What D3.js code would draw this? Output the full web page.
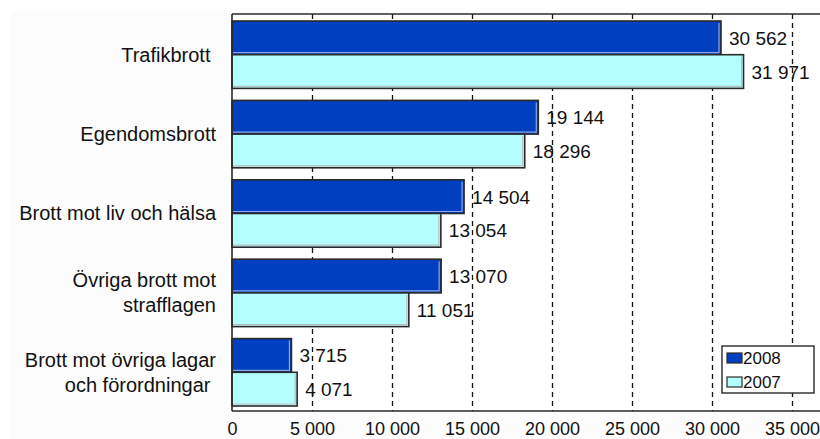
<!DOCTYPE html>
<html>
<head>
<meta charset="utf-8">
<script src="https://cdn.jsdelivr.net/npm/d3@7"></script>
<style>
  body { margin: 0; background: #fff; }
  text { font-family: "Liberation Sans", Arial, sans-serif; fill: #111; }
</style>
</head>
<body>
<div id="chart"></div>
<script>
// Chart size and plot area
const width = 820;
const height = 439;
const margin = { top: 14, right: 0, bottom: 28, left: 232 };

// Data
const categories = [
    ["Trafikbrott "],
    ["Egendomsbrott"],
    ["Brott mot liv och hälsa"],
    ["Övriga brott mot", "strafflagen"],
    ["Brott mot övriga lagar", "och förordningar "]
];
const series = ["2008", "2007"];
const values2008 = [30562, 19144, 14504, 13070, 3715];
const values2007 = [31971, 18296, 13054, 11051, 4071];
const tickValues = [0, 5000, 10000, 15000, 20000, 25000, 30000, 35000];

const colors = { "2008": "#0040c0", "2007": "#b3ffff" };
const innerColors = { "2008": "#8aa6e6", "2007": "#bdbdbd" };

const fmt = v => d3.format(",")(v).replace(/,/g, " ");

const data = categories.map((c, i) => ({
    key: "c" + i,
    lines: c,
    values: [
        { s: "2008", v: values2008[i] },
        { s: "2007", v: values2007[i] }
    ]
}));

// Scales
const xScale = d3.scaleLinear()
    .domain([0, 35000])
    .range([margin.left, 792]);

const yScale = d3.scaleBand()
    .domain(data.map(d => d.key))
    .range([margin.top, height - margin.bottom]);

const ySub = d3.scaleBand()
    .domain(series)
    .range([7, yScale.bandwidth() - 5]);

const svg = d3.select("#chart")
    .append("svg")
    .attr("width", width)
    .attr("height", height)
    .attr("viewBox", `0 0 ${width} ${height}`);

// faint chart background
svg.append("rect")
    .attr("x", 11).attr("y", 12)
    .attr("width", width - 11).attr("height", height - 12)
    .attr("fill", "#fcfcfc");

svg.append("rect")
    .attr("x", margin.left).attr("y", margin.top)
    .attr("width", width - margin.left).attr("height", height - margin.bottom - margin.top)
    .attr("fill", "#fff");

// Dashed grid lines
svg.append("g")
    .selectAll("line")
    .data(tickValues.slice(1))
    .enter()
    .append("line")
    .attr("x1", d => Math.round(xScale(d)) + 0.5)
    .attr("x2", d => Math.round(xScale(d)) + 0.5)
    .attr("y1", margin.top)
    .attr("y2", height - margin.bottom)
    .attr("stroke", "#111")
    .attr("stroke-width", 1.3)
    .attr("stroke-dasharray", "5,4");

// Bars
const groups = svg.selectAll(".cat")
    .data(data)
    .enter()
    .append("g")
    .attr("class", "cat")
    .attr("transform", d => `translate(0, ${yScale(d.key)})`);

const bars = groups.selectAll(".bar")
    .data(d => d.values)
    .enter()
    .append("g")
    .attr("class", "bar");

bars.append("rect")
    .attr("x", xScale(0))
    .attr("y", d => ySub(d.s))
    .attr("width", d => xScale(d.v) - xScale(0))
    .attr("height", ySub.bandwidth())
    .attr("fill", d => colors[d.s])
    .attr("stroke", "#2a2a2a")
    .attr("stroke-width", 1.6);

// light inner edge on right and bottom
bars.append("path")
    .attr("d", d => {
        const x1 = xScale(d.v) - 2, y0 = ySub(d.s) + 2, y1 = ySub(d.s) + ySub.bandwidth() - 2;
        return `M${x1},${y0}L${x1},${y1}L${xScale(0) + 1},${y1}`;
    })
    .attr("fill", "none")
    .attr("stroke", d => innerColors[d.s])
    .attr("stroke-width", 1.2);

// Value labels
bars.append("text")
    .attr("x", d => xScale(d.v) + 8)
    .attr("y", d => ySub(d.s) + ySub.bandwidth() / 2 + 7)
    .attr("font-size", "19px")
    .text(d => fmt(d.v));

// Category labels
groups.append("text")
    .attr("text-anchor", "end")
    .attr("font-size", "20px")
    .style("white-space", "pre")
    .selectAll("tspan")
    .data(d => d.lines.map((t, i) => ({ t, i, n: d.lines.length })))
    .enter()
    .append("tspan")
    .attr("x", 216)
    .attr("y", d => yScale.bandwidth() / 2 + 8 + (d.i - (d.n - 1) / 2) * 25)
    .text(d => d.t);

// Frame: top, left, bottom
svg.append("line")
    .attr("x1", margin.left).attr("x2", width)
    .attr("y1", margin.top).attr("y2", margin.top)
    .attr("stroke", "#2a2a2a").attr("stroke-width", 1.5);

svg.append("line")
    .attr("x1", margin.left).attr("x2", margin.left)
    .attr("y1", margin.top).attr("y2", height - margin.bottom)
    .attr("stroke", "#2a2a2a").attr("stroke-width", 1.6);

// X axis
const xAxis = svg.append("g")
    .attr("transform", `translate(0, ${height - margin.bottom})`)
    .call(d3.axisBottom(xScale)
        .tickValues(tickValues)
        .tickSize(0)
        .tickPadding(11)
        .tickFormat(fmt));

xAxis.select(".domain")
    .attr("d", `M${margin.left},0H${width}`)
    .attr("stroke", "#2a2a2a")
    .attr("stroke-width", 1.6);

xAxis.selectAll("text")
    .attr("font-size", "18px")
    .attr("font-family", "Liberation Sans, Arial, sans-serif")
    .attr("fill", "#111");

// Legend
const legend = svg.append("g")
    .attr("transform", "translate(722, 346)");

legend.append("rect")
    .attr("width", 92)
    .attr("height", 47)
    .attr("fill", "#fff")
    .attr("stroke", "#2a2a2a")
    .attr("stroke-width", 1.4);

const items = legend.selectAll(".item")
    .data(series)
    .enter()
    .append("g")
    .attr("transform", (d, i) => `translate(5, ${7 + i * 24})`);

items.append("rect")
    .attr("width", 15)
    .attr("height", 10)
    .attr("fill", d => colors[d])
    .attr("stroke", "#2a2a2a")
    .attr("stroke-width", 1.2);

items.append("text")
    .attr("x", 16)
    .attr("y", 11)
    .attr("font-size", "17px")
    .text(d => d);
</script>
</body>
</html>
